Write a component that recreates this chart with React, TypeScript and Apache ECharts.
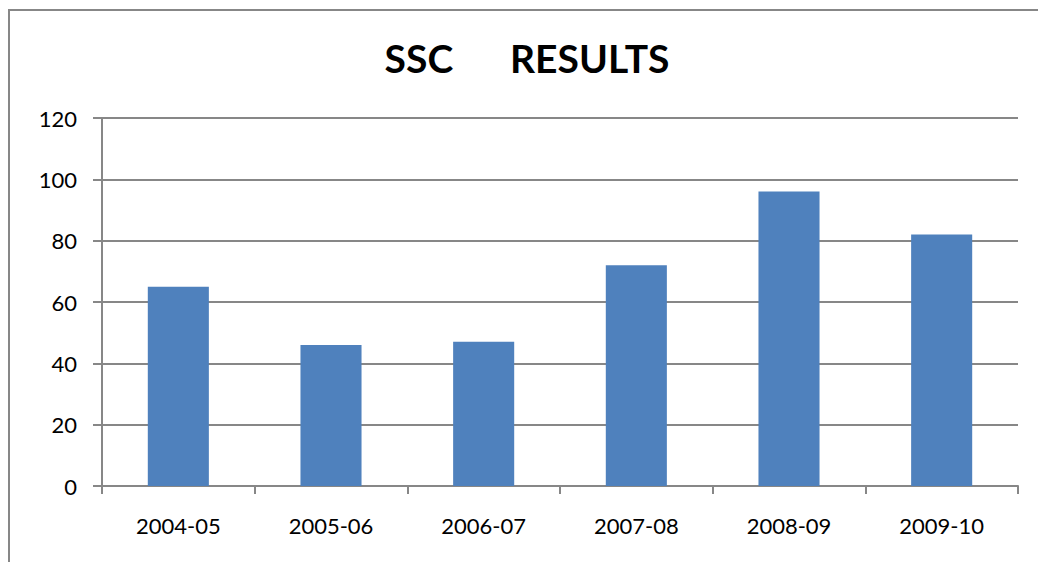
import React, { useEffect, useRef } from "react";
import * as echarts from "echarts";

const categories = ["2004-05", "2005-06", "2006-07", "2007-08", "2008-09", "2009-10"];
const results = [65, 46, 47, 72, 96, 82];
const titleText = "SSC      RESULTS";

export default function App() {
  const ref = useRef<HTMLDivElement>(null);
  useEffect(() => {
    if (!ref.current) return;
    const chart = echarts.init(ref.current, undefined, { renderer: "svg" });
    const gray = "#878787";
    chart.setOption({
      animation: false,
      backgroundColor: "#ffffff",
      graphic: [
        {
          type: "rect",
          shape: { x: 9, y: 10, width: 1200, height: 700 },
          style: { fill: "none", stroke: gray, lineWidth: 2 },
          silent: true,
        },
        {
          type: "text",
          x: 527,
          y: 58,
          style: {
            text: titleText,
            font: "bold 39px Lato",
            fill: "#000",
            textAlign: "center",
            textVerticalAlign: "middle",
            whiteSpace: "pre",
          },
        },
      ],
      grid: { left: 102, right: 20, top: 118, bottom: 76 },
      xAxis: {
        type: "category",
        data: categories,
        axisLine: { lineStyle: { color: gray, width: 2 } },
        axisTick: { show: true, length: 8, lineStyle: { color: gray, width: 2 } },
        axisLabel: { color: "#000", fontFamily: "Lato", fontSize: 22, margin: 28 },
      },
      yAxis: {
        type: "value",
        min: 0,
        max: 120,
        interval: 20,
        axisLine: { show: true, lineStyle: { color: gray, width: 2 } },
        axisTick: { show: true, length: 9, lineStyle: { color: gray, width: 2 } },
        splitLine: { lineStyle: { color: gray, width: 2 } },
        axisLabel: { color: "#000", fontFamily: "Lato", fontSize: 22, margin: 25 },
      },
      series: [
        {
          type: "bar",
          data: results,
          barWidth: "40%",
          itemStyle: { color: "#4F81BD" },
        },
      ],
    });
    return () => chart.dispose();
  }, []);
  return (
    <div
      ref={ref}
      style={{ position: "fixed", left: 0, top: 0, width: 1038, height: 562 }}
    />
  );
}
